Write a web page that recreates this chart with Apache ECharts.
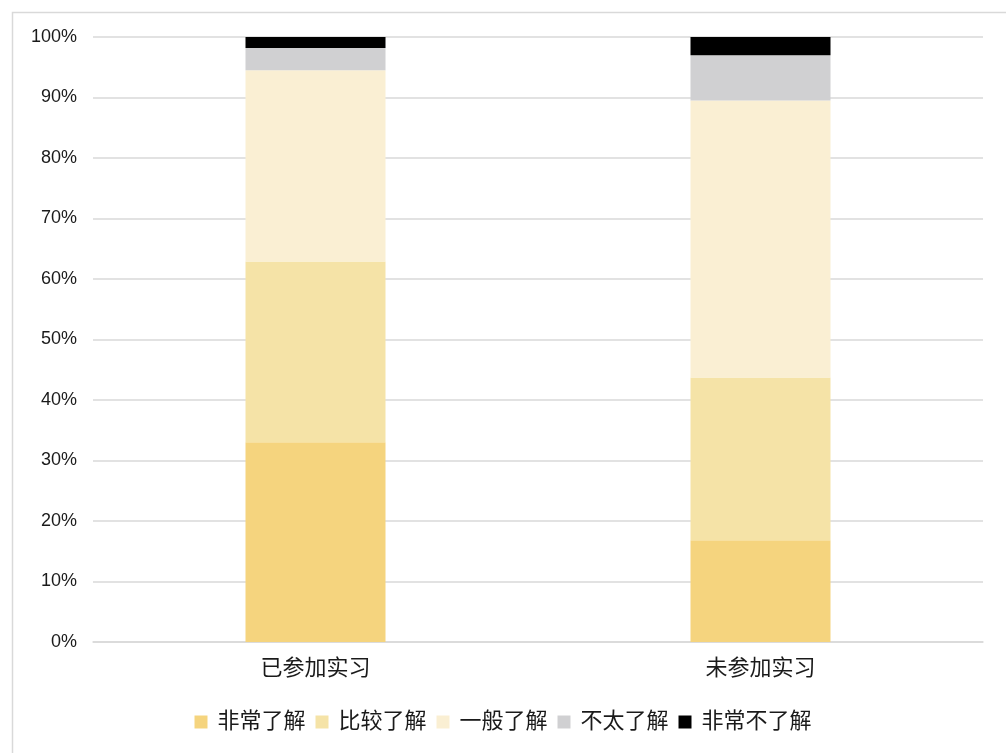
<!DOCTYPE html>
<html>
<head>
<meta charset="utf-8">
<script src="https://cdn.jsdelivr.net/npm/echarts@6/dist/echarts.min.js"></script>
<style>
html,body{margin:0;padding:0;background:#fff;}
#main{width:1006px;height:753px;}
</style>
</head>
<body>
<div id="main"></div>
<script>
const categories = ['已参加实习', '未参加实习'];
const seriesNames = ['非常了解', '比较了解', '一般了解', '不太了解', '非常不了解'];
const veryWell = [33.0, 16.8];
const fairlyWell = [29.9, 26.9];
const average = [31.6, 45.8];
const notMuch = [3.7, 7.5];
const notAtAll = [1.8, 3.0];
const yTicks = [0, 10, 20, 30, 40, 50, 60, 70, 80, 90, 100];

const colors = ['#F5D47E', '#F5E3A7', '#FAEFD3', '#D0D0D2', '#000000'];
const values = [veryWell, fairlyWell, average, notMuch, notAtAll];
const font = '"Liberation Sans", Arial, "Noto Sans CJK SC", sans-serif';

const chart = echarts.init(document.getElementById('main'), null, {renderer: 'canvas'});
chart.setOption({
  animation: false,
  backgroundColor: '#fff',
  color: colors,
  graphic: [{
    type: 'rect', left: 10, top: 10, silent: true,
    shape: {width: 1010, height: 760},
    style: {fill: 'none', stroke: '#d9d9d9', lineWidth: 1.5}
  }],
  grid: {left: 93, right: 23, top: 37, bottom: 111, containLabel: false},
  legend: {
    data: seriesNames,
    bottom: 15,
    left: 'center',
    itemWidth: 13,
    itemHeight: 13,
    itemGap: 10,
    icon: 'rect',
    textStyle: {fontSize: 22, color: '#1a1a1a', fontFamily: font, padding: [0, 0, 0, 5]}
  },
  xAxis: {
    type: 'category',
    data: categories,
    axisTick: {show: false},
    axisLine: {lineStyle: {color: '#d9d9d9', width: 1.5}},
    axisLabel: {fontSize: 22, color: '#1a1a1a', fontFamily: font, margin: 16}
  },
  yAxis: {
    type: 'value',
    min: yTicks[0],
    max: yTicks[yTicks.length - 1],
    interval: 10,
    axisLine: {show: false},
    axisTick: {show: false},
    splitLine: {lineStyle: {color: '#d9d9d9', width: 1.5}},
    axisLabel: {fontSize: 18, color: '#1a1a1a', fontFamily: font, margin: 16, formatter: '{value}%'}
  },
  series: seriesNames.map((name, i) => ({
    name: name,
    type: 'bar',
    stack: 'total',
    barWidth: 140,
    data: values[i],
    itemStyle: {color: colors[i]}
  }))
});
</script>
</body>
</html>
